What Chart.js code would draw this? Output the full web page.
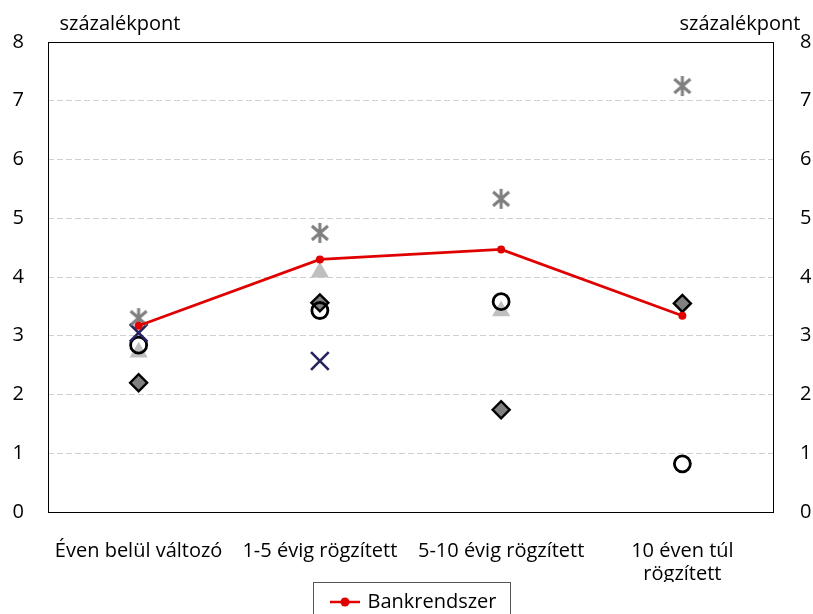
<!DOCTYPE html>
<html>
<head>
<meta charset="utf-8">
<script src="https://cdn.jsdelivr.net/npm/chart.js@4"></script>
<style>
  body { margin: 0; background: #fff; }
</style>
</head>
<body>
<canvas id="chart" width="813" height="614"></canvas>
<script>
const categories = ['Éven belül változó', '1-5 évig rögzített', '5-10 évig rögzített', ['10 éven túl', 'rögzített']];
const bankrendszer = [3.17, 4.3, 4.47, 3.34];
const starSeries = [3.3, 4.75, 5.33, 7.25];
const triangleSeries = [2.72, 4.08, 3.42, null];
const crossSeries = [3.05, 2.57, null, null];
const circleSeries = [2.84, 3.43, 3.58, 0.82];
const diamondSeries = [2.2, 3.56, 1.74, 3.55];
const yTicks = [0, 1, 2, 3, 4, 5, 6, 7, 8];

const FONT = '"Open Sans", sans-serif';
const FS = 20;

// asterisk marker (vertical bar + X)
function makeStar() {
  const c = document.createElement('canvas');
  c.width = 22; c.height = 22;
  const g = c.getContext('2d');
  g.strokeStyle = '#7f7f7f';
  g.lineWidth = 3;
  g.beginPath();
  g.moveTo(11, 1); g.lineTo(11, 21);
  g.moveTo(3, 4); g.lineTo(19, 18);
  g.moveTo(19, 4); g.lineTo(3, 18);
  g.stroke();
  return c;
}

// legend marker: line with dot
function makeLegendMarker() {
  const c = document.createElement('canvas');
  c.width = 30; c.height = 10;
  const g = c.getContext('2d');
  g.strokeStyle = '#e00000';
  g.lineWidth = 2.5;
  g.beginPath(); g.moveTo(0, 5); g.lineTo(30, 5); g.stroke();
  g.fillStyle = '#e00000';
  g.beginPath(); g.arc(15, 5, 4.5, 0, Math.PI * 2); g.fill();
  return c;
}

const legendMarker = makeLegendMarker();

const framePlugin = {
  id: 'frame',
  afterLayout(chart) {
    // legend sits a little right of centre and lower in the original
    const lg = chart.legend;
    lg.left += 8; lg.right += 8;
    lg.top += 8; lg.bottom += 8;
  },
  afterDraw(chart) {
    const { ctx, chartArea: a } = chart;
    ctx.save();
    ctx.strokeStyle = '#000';
    ctx.lineWidth = 1;
    ctx.strokeRect(a.left + 0.5, a.top + 0.5, a.right - a.left, a.bottom - a.top);
    ctx.fillStyle = '#000';
    ctx.font = FS + 'px ' + FONT;
    ctx.textAlign = 'center';
    ctx.textBaseline = 'alphabetic';
    ctx.fillText('százalékpont', 120, 30);
    ctx.fillText('százalékpont', 740, 30);
    // legend border
    ctx.strokeStyle = '#555';
    ctx.strokeRect(313.5, 582.5, 197, 40);
    ctx.restore();
  }
};

new Chart(document.getElementById('chart'), {
  type: 'line',
  data: {
    labels: categories,
    datasets: [
      { label: 'Bankrendszer', data: bankrendszer, borderColor: '#e00000', backgroundColor: '#e00000',
        borderWidth: 2.8, pointRadius: 4, pointBorderWidth: 0, order: 0 },
      { label: 's2', data: starSeries, showLine: false, pointStyle: makeStar(), order: 1 },
      { label: 's3', data: triangleSeries, showLine: false, pointStyle: 'triangle', pointRadius: 10.5,
        backgroundColor: '#bfbfbf', borderColor: '#bfbfbf', pointBorderWidth: 0, order: 5 },
      { label: 's4', data: crossSeries, showLine: false, pointStyle: 'crossRot', pointRadius: 12.5,
        borderColor: '#262260', pointBorderWidth: 2.6, order: 2 },
      { label: 's5', data: circleSeries, showLine: false, pointStyle: 'circle', pointRadius: 8,
        backgroundColor: 'rgba(0,0,0,0)', borderColor: '#000', pointBorderWidth: 2.8, order: 3 },
      { label: 's6', data: diamondSeries, showLine: false, pointStyle: 'rectRot', pointRadius: 8.5,
        backgroundColor: '#808080', borderColor: '#000', pointBorderWidth: 2.4, order: 4 }
    ]
  },
  options: {
    responsive: false,
    animation: false,
    layout: { padding: { top: 42, left: 0, right: 0, bottom: 0 } },
    plugins: {
      tooltip: { enabled: false },
      legend: {
        position: 'bottom',
        labels: {
          usePointStyle: true,
          pointStyleWidth: 25,
          color: '#000',
          font: { family: FONT, size: FS },
          padding: 2,
          generateLabels: chart => [{
            text: 'Bankrendszer', pointStyle: legendMarker, fillStyle: '#e00000',
            strokeStyle: '#e00000', lineWidth: 0, datasetIndex: 0, hidden: false, fontColor: '#000'
          }]
        }
      }
    },
    scales: {
      x: {
        offset: true,
        grid: { display: false, drawTicks: false },
        border: { display: false },
        ticks: { color: '#000', font: { family: FONT, size: FS, lineHeight: 1.15 }, padding: 28, maxRotation: 0, autoSkip: false },
        afterFit: s => { s.height = 70; }
      },
      y: {
        position: 'left',
        min: 0, max: 8,
        afterBuildTicks: s => { s.ticks = yTicks.map(v => ({ value: v })); },
        grid: { color: '#d0d0d0', drawTicks: false, lineWidth: 1 },
        border: { display: false, dash: [6, 3] },
        ticks: { color: '#000', font: { family: FONT, size: FS }, padding: 24 },
        afterFit: s => { s.width = 48; }
      },
      y2: {
        position: 'right',
        min: 0, max: 8,
        afterBuildTicks: s => { s.ticks = yTicks.map(v => ({ value: v })); },
        grid: { display: false, drawTicks: false },
        border: { display: false },
        ticks: { color: '#000', font: { family: FONT, size: FS }, padding: 27 },
        afterFit: s => { s.width = 40; }
      }
    }
  },
  plugins: [framePlugin]
});
</script>
</body>
</html>
